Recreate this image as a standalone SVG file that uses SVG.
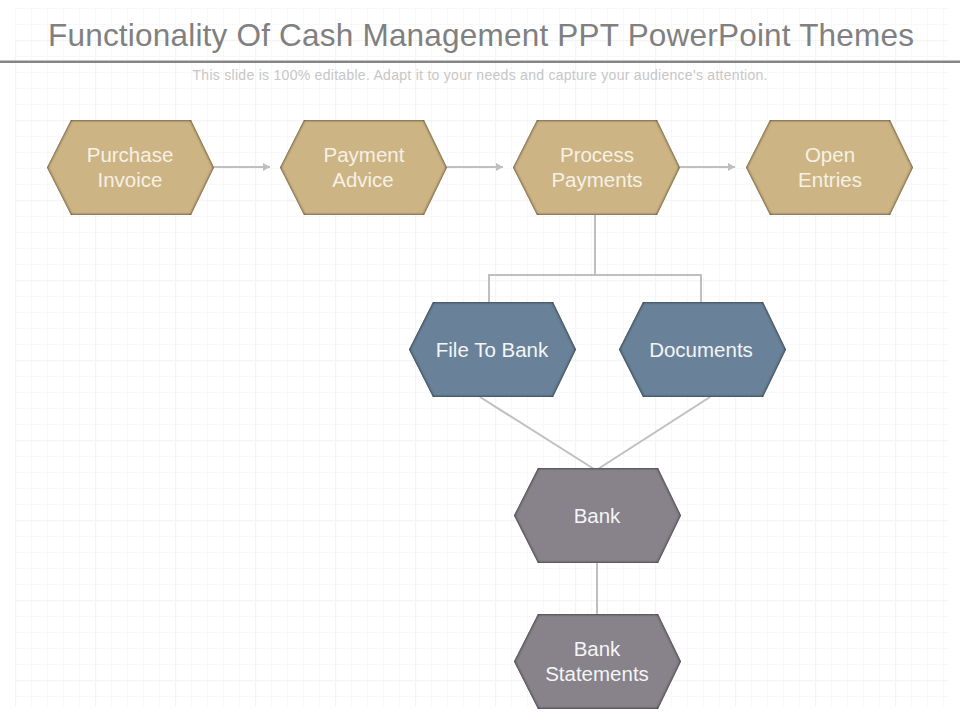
<svg xmlns="http://www.w3.org/2000/svg" width="960" height="720" viewBox="0 0 960 720">
<style>
text{font-family:"Liberation Sans",Arial,sans-serif;text-anchor:middle}
.l{font-size:20.500px;fill:#f6f1e4}
.b{fill:#f3f5f7}
.tan{fill:#cdb484}
.blue{fill:#6b8299}
.grey{fill:#88828a}
.hex{filter:url(#inner)}
.c{fill:none;stroke:#bfbfbf;stroke-width:2}
</style>
<defs>
<pattern id="g" x="15" y="8" width="16" height="16" patternUnits="userSpaceOnUse"><path d="M.5 0V16M0 .5H16" fill="none" stroke="#f8f8f8" stroke-width="1"/></pattern>
<pattern id="g5" x="15" y="40" width="80" height="80" patternUnits="userSpaceOnUse"><path d="M.5 0V80M0 .5H80" fill="none" stroke="#f4f4f4" stroke-width="1.4"/></pattern>
<polygon id="h" points="-83,0 -59,-47.500 61,-47.500 84,0 61,47.500 -59,47.500"/>
<filter id="inner" x="-10%" y="-10%" width="120%" height="120%">
<feGaussianBlur in="SourceAlpha" stdDeviation="1.800" result="b"/>
<feComposite in="SourceAlpha" in2="b" operator="out" result="e"/>
<feFlood flood-color="#201a10" flood-opacity=".9"/>
<feComposite in2="e" operator="in" result="s"/>
<feMerge><feMergeNode in="SourceGraphic"/><feMergeNode in="s"/><feMergeNode in="s"/></feMerge>
</filter>
<marker id="a" markerWidth="8" markerHeight="8" refX="7" refY="4" orient="auto" markerUnits="userSpaceOnUse"><path d="M0 0L7 4L0 8Z" fill="#bfbfbf"/></marker>
</defs>
<rect width="960" height="720" fill="#fff"/>
<g id="grid"><rect x="15" y="8" width="933" height="698" fill="url(#g)"/><rect x="15" y="40" width="933" height="666" fill="url(#g5)"/></g>
<text id="title" x="481" y="46" font-size="31.5px" fill="#808080" textLength="866" lengthAdjust="spacing">Functionality Of Cash Management PPT PowerPoint Themes</text>
<rect id="rule" x="0" y="60.500" width="960" height="2.500" fill="#858585"/>
<text id="subtitle" x="480" y="80" font-size="14px" fill="#c6c6c6" textLength="575" lengthAdjust="spacing">This slide is 100% editable. Adapt it to your needs and capture your audience's attention.</text>
<g id="connectors">
<path class="c" d="M214 167H270" marker-end="url(#a)"/>
<path class="c" d="M447 167H503" marker-end="url(#a)"/>
<path class="c" d="M680 167H735" marker-end="url(#a)"/>
<path class="c" d="M595 215V275M489 302V275H701V302"/>
<path class="c" d="M480 397L594 469M710 397L598 469"/>
<path class="c" d="M597 562V615"/>
</g>
<g id="purchase-invoice" transform="translate(130 167.500)"><use href="#h" class="hex tan"/><text class="l" y="-6">Purchase</text><text class="l" y="19">Invoice</text></g>
<g id="payment-advice" transform="translate(363 167.500)"><use href="#h" class="hex tan"/><text class="l" x="1" y="-6">Payment</text><text class="l" y="19">Advice</text></g>
<g id="process-payments" transform="translate(596 167.500)"><use href="#h" class="hex tan"/><text class="l" x="1" y="-6">Process</text><text class="l" x="1" y="19">Payments</text></g>
<g id="open-entries" transform="translate(829 167.500)"><use href="#h" class="hex tan"/><text class="l" x="1" y="-6">Open</text><text class="l" x="1" y="19">Entries</text></g>
<g id="file-to-bank" transform="translate(492 349.500)"><use href="#h" class="hex blue"/><text class="l b" y="7">File To Bank</text></g>
<g id="documents" transform="translate(702 349.500)"><use href="#h" class="hex blue"/><text class="l b" x="-1" y="7">Documents</text></g>
<g id="bank" transform="translate(597 515.500)"><use href="#h" class="hex grey"/><text class="l b" y="7">Bank</text></g>
<g id="bank-statements" transform="translate(597 661.500)"><use href="#h" class="hex grey"/><text class="l b" y="-6">Bank</text><text class="l b" y="19">Statements</text></g>
</svg>
